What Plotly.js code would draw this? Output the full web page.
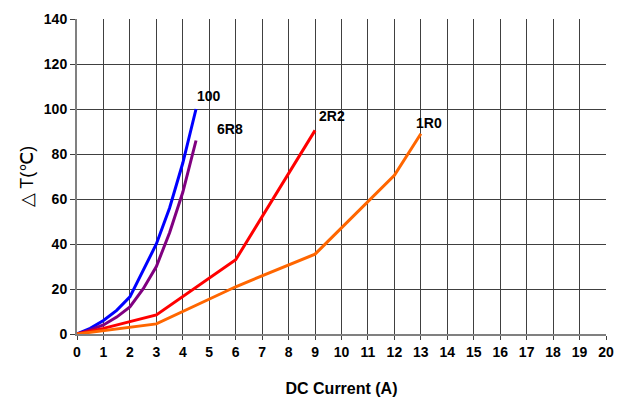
<!DOCTYPE html>
<html><head><meta charset="utf-8">
<script src="https://cdn.plot.ly/plotly-3.0.1.min.js"></script>
<style>body{margin:0;background:#fff}#c{width:626px;height:401px}</style>
</head><body><div id="c"></div>
<script>
const x100 = [0, 0.5, 1, 1.5, 2, 2.5, 3, 3.5, 4, 4.5];
const y100 = [0, 2.5, 6, 10.5, 16.5, 28, 40, 56, 76, 100];
const x6R8 = [0, 0.5, 1, 1.5, 2, 2.5, 3, 3.5, 4, 4.5];
const y6R8 = [0, 1.8, 4, 7.5, 12, 20, 30, 45, 63, 86];
const x2R2 = [0, 1, 2, 3, 6, 9];
const y2R2 = [0, 2.5, 5.5, 8.5, 33, 90.5];
const x1R0 = [0, 1, 2, 3, 6, 9, 12, 13];
const y1R0 = [0, 1.5, 3, 4.5, 21, 35.5, 70.5, 89];
const names = ["100", "6R8", "2R2", "1R0"];
const labelX = [5.0, 5.8, 9.65, 13.3];
const labelY = [106, 91, 97, 94];
const xTicks = [0,1,2,3,4,5,6,7,8,9,10,11,12,13,14,15,16,17,18,19,20];
const yTicks = [0,20,40,60,80,100,120,140];

const colors = ["#0000FF", "#800080", "#FF0000", "#FF6600"];
const xs = [x100, x6R8, x2R2, x1R0];
const ys = [y100, y6R8, y2R2, y1R0];
const data = xs.map((x, i) => ({
  x: x, y: ys[i], type: "scatter", mode: "lines", name: names[i],
  line: {color: colors[i], width: 3, shape: "linear"}
}));
const ann = names.map((n, i) => ({
  x: labelX[i], y: labelY[i], text: "<b>" + n + "</b>", showarrow: false,
  font: {family: "Arial, Liberation Sans", size: 14, color: "#000"}
}));
const layout = {
  width: 626, height: 401,
  margin: {l: 77, r: 20, t: 19, b: 67},
  paper_bgcolor: "#fff", plot_bgcolor: "#fff",
  showlegend: false,
  font: {family: "Arial, Liberation Sans", color: "#000"},
  xaxis: {
    range: [0, 20], tickvals: xTicks, ticktext: xTicks.map(v => "<b>" + v + "</b>"),
    showgrid: true, gridcolor: "#404040", gridwidth: 1,
    showline: true, linecolor: "#808080", linewidth: 2, mirror: false,
    ticks: "outside", ticklen: 4, tickcolor: "#404040",
    zeroline: false, tickfont: {size: 14},
    title: {text: "<b>DC Current (A)</b>", font: {size: 16}, standoff: 24}
  },
  yaxis: {
    range: [0, 140], tickvals: yTicks, ticktext: yTicks.map(v => "<b>" + v + "</b>"),
    showgrid: true, gridcolor: "#404040", gridwidth: 1,
    showline: true, linecolor: "#808080", linewidth: 2,
    ticks: "outside", ticklen: 5, tickcolor: "#404040",
    zeroline: false, tickfont: {size: 14},
    title: {text: "△ T(℃)", font: {size: 18}, standoff: 6}
  },
  annotations: ann
};
Plotly.newPlot("c", data, layout, {staticPlot: true, displayModeBar: false});
</script></body></html>
